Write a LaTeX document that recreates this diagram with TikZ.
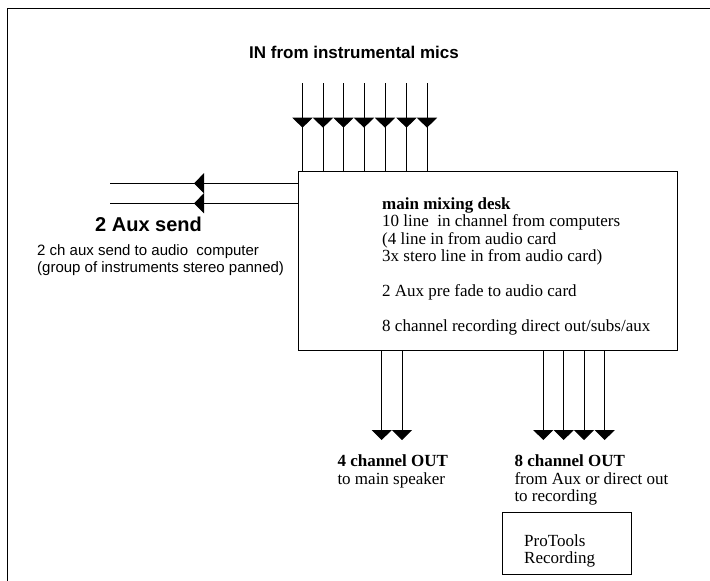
\documentclass[tikz,border=0pt]{standalone}
\usepackage{fontspec}
\setmainfont{Liberation Serif}
\setsansfont{Liberation Sans}
\usetikzlibrary{arrows.meta, positioning, decorations.markings}
\newcommand{\firstline}{\rule{0pt}{12pt}}

\begin{document}
\begin{tikzpicture}[x=1pt, y=-1pt,
    wire/.style={line width=1pt},
    headdown/.style={-{Triangle[width=20pt,length=10pt]}},
    midhead/.style={postaction={decorate}, decoration={markings,
      mark=at position #1 with {\arrow{Triangle[width=20pt,length=10pt]}}}},
    boxed/.style={draw, line width=1pt, inner sep=0pt},
    serif/.style={font=\fontsize{17}{17.4}\selectfont, align=left, inner sep=0pt, anchor=north west},
    sans/.style={font=\sffamily\fontsize{15}{17}\selectfont, align=left, inner sep=0pt, anchor=north west}]
  \useasboundingbox (0,0) rectangle (710,581);

  % frame, open to the right and below
  \coordinate (fbl) at (7.5,581);
  \coordinate (ftr) at (710,8.5);
  \draw[line width=1.3pt] (fbl) |- (ftr);

  % mixing desk
  \node[boxed, minimum width=379pt, minimum height=179pt] (desk) at (487.5,260.5) {};
  \node[serif] (desktext) at (382,197)
    {\firstline\textbf{main mixing desk}\\10 line\ \ in channel from computers\\(4 line in from audio card\\3x stero line in from audio card)\\[17.4pt]
     2 Aux pre fade to audio card\\[17.4pt]
     8 channel recording direct out/subs/aux};

  % inputs from the mics
  \node[font=\sffamily\bfseries\fontsize{17}{20}\selectfont, anchor=base] (intitle) at (354,58.3) {IN from instrumental mics};
  \foreach \x [count=\i] in {302.5,323,343.5,364,385,406.5,427} {
    \coordinate (mic\i) at (\x,83);
    \draw[wire, midhead=0.511] (mic\i) -- (mic\i |- desk.north);
  }

  % aux sends
  \coordinate (aux1) at (110,183.3);
  \coordinate (aux2) at (110,203.3);
  \draw[wire, midhead=0.552] (aux1 -| desk.west) -- (aux1);
  \draw[wire, midhead=0.552] (aux2 -| desk.west) -- (aux2);
  \node[font=\sffamily\bfseries\fontsize{20}{24}\selectfont, anchor=base west, inner sep=0pt] (auxtitle) at (95,231.7) {2 Aux send};
  \node[sans] (auxnote) at (37,243)
    {\firstline 2 ch aux send to audio\ \ computer\\(group of instruments stereo panned)};

  % outputs
  \foreach \x [count=\i] in {381.7,402} {
    \coordinate (spk\i) at (\x,440);
    \draw[wire, headdown] (spk\i |- desk.south) -- (spk\i);
  }
  \foreach \x [count=\i] in {543.3,563.7,584,604.7} {
    \coordinate (rec\i) at (\x,440);
    \draw[wire, headdown] (rec\i |- desk.south) -- (rec\i);
  }
  \node[serif] (spklabel) at (337.3,454.7) {\firstline\textbf{4 channel OUT}\\to main speaker};
  \node[serif] (reclabel) at (514.3,454.7) {\firstline\textbf{8 channel OUT}\\from Aux or direct out\\to recording};

  % recorder
  \node[boxed, minimum width=129pt, minimum height=62.3pt] (protools) at (566.5,543.2) {};
  \node[serif] (ptext) at (524,534) {\firstline ProTools\\Recording};
\end{tikzpicture}
\end{document}
